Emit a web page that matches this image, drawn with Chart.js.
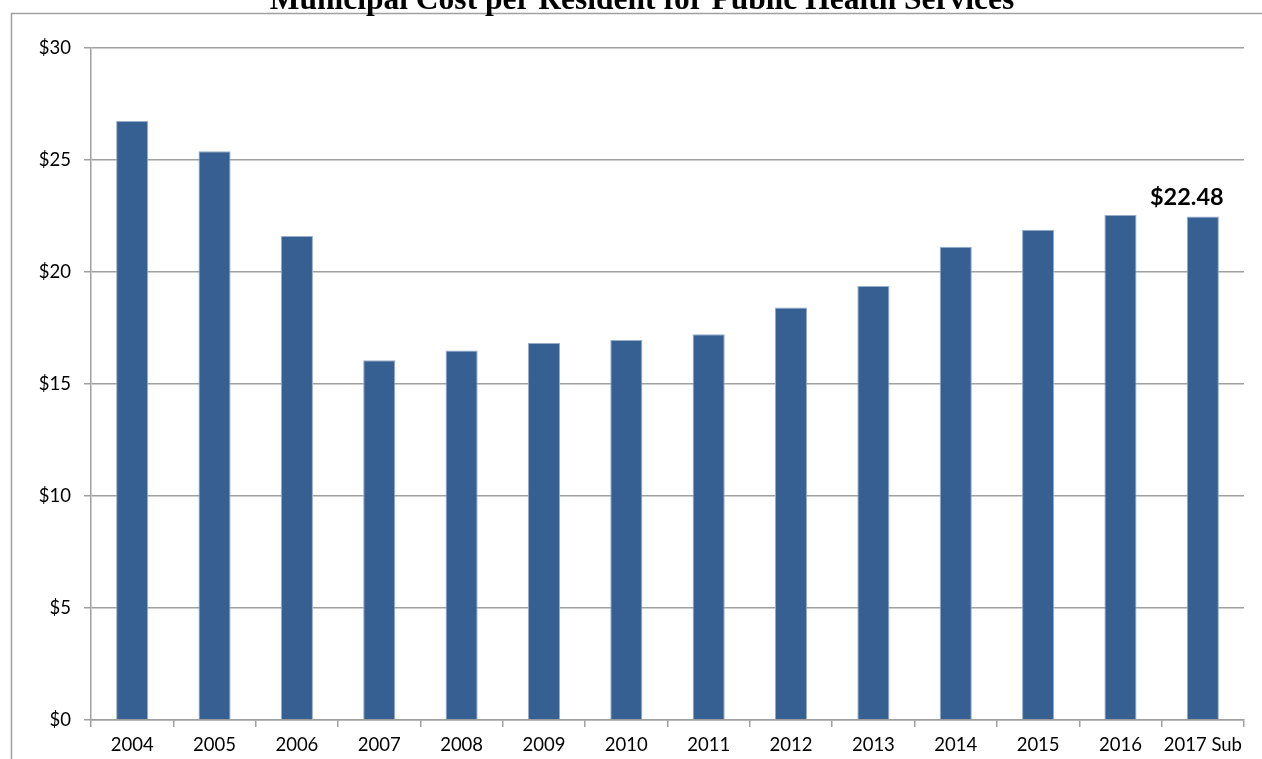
<!DOCTYPE html>
<html>
<head>
<meta charset="utf-8">
<script src="https://cdn.jsdelivr.net/npm/chart.js@4"></script>
<style>
  html, body { margin: 0; padding: 0; background: #fff; }
  #wrap { position: relative; width: 1262px; height: 759px; }
</style>
</head>
<body>
<div id="wrap"><canvas id="cost-chart" width="1262" height="759"></canvas></div>
<script>
const years = ['2004', '2005', '2006', '2007', '2008', '2009', '2010',
  '2011', '2012', '2013', '2014', '2015', '2016', '2017 Sub'];
const costPerResident = [26.74, 25.39, 21.61, 16.06, 16.49, 16.83, 16.96,
  17.22, 18.42, 19.38, 21.13, 21.89, 22.54, 22.48];
const yTicks = [0, 5, 10, 15, 20, 25, 30];
const chartTitle = 'Municipal Cost per Resident for Public Health Services';
const labelledIndex = 13;

const GRID = '#a0a0a0';

// frame + title drawn straight on the canvas (title is clipped at the top in the source)
const framePlugin = {
  id: 'frame',
  beforeDraw(chart) {
    const ctx = chart.ctx;
    ctx.save();
    ctx.fillStyle = '#fff';
    ctx.fillRect(0, 0, chart.width, chart.height);
    ctx.strokeStyle = GRID;
    ctx.lineWidth = 1.5;
    ctx.beginPath();
    ctx.moveTo(11.5, chart.height);
    ctx.lineTo(11.5, 13.5);
    ctx.lineTo(chart.width, 13.5);
    ctx.stroke();
    ctx.fillStyle = '#000';
    ctx.font = 'bold 31.5px "Liberation Serif", "Times New Roman", serif';
    ctx.textAlign = 'center';
    ctx.textBaseline = 'alphabetic';
    ctx.fillText(chartTitle, 642, 9);
    ctx.restore();
  }
};

const valueLabelPlugin = {
  id: 'valueLabel',
  afterDatasetsDraw(chart) {
    const bar = chart.getDatasetMeta(0).data[labelledIndex];
    if (!bar) return;
    const ctx = chart.ctx;
    ctx.save();
    ctx.fillStyle = '#000';
    ctx.font = 'bold 23.5px Lato, "Open Sans", sans-serif';
    ctx.textAlign = 'center';
    ctx.textBaseline = 'middle';
    ctx.fillText('$' + costPerResident[labelledIndex].toFixed(2), bar.x - 16, bar.y - 19);
    ctx.restore();
  }
};

new Chart(document.getElementById('cost-chart').getContext('2d'), {
  type: 'bar',
  data: {
    labels: years,
    datasets: [{
      label: 'Cost per Resident',
      data: costPerResident,
      backgroundColor: '#376092',
      borderColor: '#98adca',
      borderWidth: 1,
      barPercentage: 0.39,
      categoryPercentage: 1
    }]
  },
  options: {
    responsive: false,
    animation: false,
    layout: { padding: { top: 48, right: 18, left: 0, bottom: 0 } },
    plugins: {
      legend: { display: false },
      title: { display: false },
      tooltip: { enabled: false }
    },
    scales: {
      x: {
        offset: true,
        grid: {
          offset: true,
          drawOnChartArea: false,
          drawTicks: true,
          tickLength: 7,
          color: GRID,
          lineWidth: 1.5
        },
        border: { color: GRID, width: 1.5 },
        ticks: {
          color: '#000',
          padding: 7,
          maxRotation: 0,
          autoSkip: false,
          font: { family: 'Lato, "Open Sans", sans-serif', size: 18.5 }
        },
        afterFit(scale) { scale.height = 39; }
      },
      y: {
        min: 0,
        max: 30,
        afterBuildTicks(scale) { scale.ticks = yTicks.map(v => ({ value: v })); },
        grid: {
          color: GRID,
          lineWidth: 1.5,
          drawTicks: true,
          tickLength: 7
        },
        border: { color: GRID, width: 1.5 },
        ticks: {
          color: '#000',
          padding: 13,
          callback: v => '$' + v,
          font: { family: 'Lato, "Open Sans", sans-serif', size: 18.5 }
        },
        afterFit(scale) { scale.width = 91; }
      }
    }
  },
  plugins: [framePlugin, valueLabelPlugin]
});
</script>
</body>
</html>
